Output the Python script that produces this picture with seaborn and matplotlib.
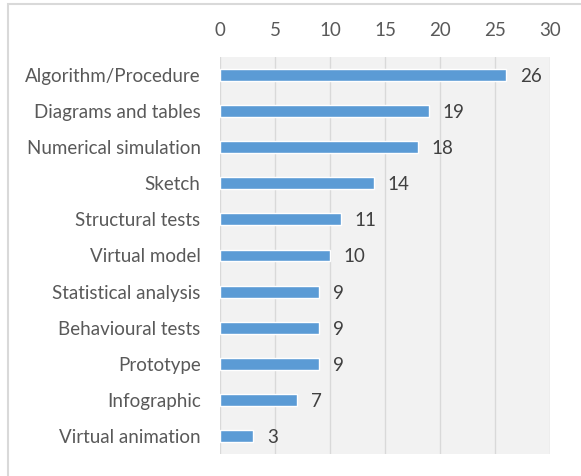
import matplotlib
matplotlib.use("Agg")
import matplotlib.pyplot as plt
import seaborn as sns
import pandas as pd
from matplotlib.patches import Rectangle

categories = ["Algorithm/Procedure", "Diagrams and tables", "Numerical simulation",
              "Sketch", "Structural tests", "Virtual model", "Statistical analysis",
              "Behavioural tests", "Prototype", "Infographic", "Virtual animation"]
values = [26, 19, 18, 14, 11, 10, 9, 9, 9, 7, 3]
xticks = [0, 5, 10, 15, 20, 25, 30]

df = pd.DataFrame({"category": categories, "value": values})

sns.set_style("white")
plt.rcParams['font.family'] = ['Lato', 'DejaVu Sans']

FS = 13.5
W, H = 581, 476
fig = plt.figure(figsize=(W / 100, H / 100), dpi=100)
# outer frame
fig.patches.append(Rectangle((8 / W, -0.1), 1.2, 1 - 4 / H + 0.1, transform=fig.transFigure,
                             fill=False, edgecolor="#d9d9d9", linewidth=1.5))

ax = fig.add_axes([220 / W, 1 - 454 / H, (550 - 220) / W, (454 - 57) / H])
ax.set_facecolor("#f2f2f2")
sns.barplot(data=df, x="value", y="category", color="#5b9bd5", width=0.33,
            saturation=1, ax=ax, zorder=3)
ax.set_xlim(0, 30)
ax.set_xticks(xticks)
ax.set_xticklabels([str(t) for t in xticks])
ax.xaxis.tick_top()
ax.grid(axis="x", color="#d9d9d9", linewidth=1, zorder=0)
ax.set_axisbelow(True)
for s in ax.spines.values():
    s.set_visible(False)
ax.tick_params(axis="both", length=0, labelsize=FS, colors="#595959")
ax.tick_params(axis="x", pad=13)
ax.tick_params(axis="y", pad=14)
ax.set_xlabel("")
ax.set_ylabel("")
for i, v in enumerate(values):
    ax.text(v + 1.25, i, str(v), va="center_baseline", ha="left", fontsize=FS, color="#404040")

fig.savefig("out.png", dpi=100)
